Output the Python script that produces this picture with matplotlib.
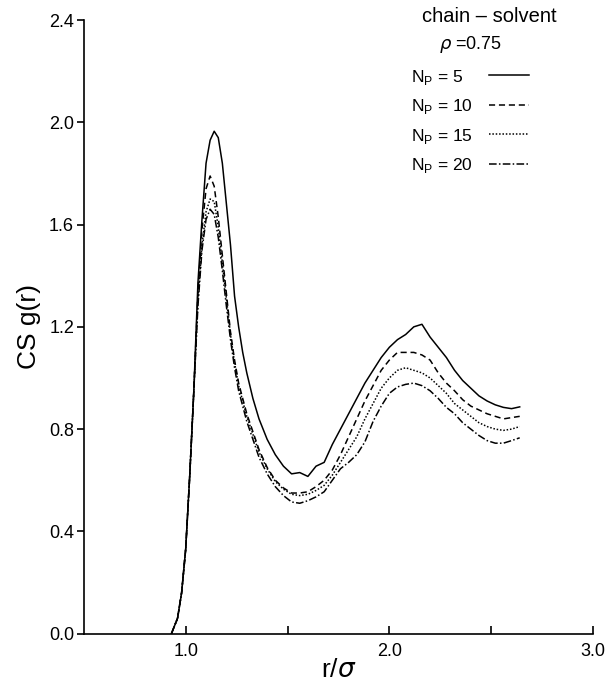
import matplotlib
matplotlib.use("Agg")
import matplotlib.pyplot as plt

plt.rcParams["font.family"] = ["Liberation Sans", "DejaVu Sans"]
plt.rcParams["mathtext.fontset"] = "custom"
plt.rcParams["mathtext.rm"] = "Liberation Sans"

# r/sigma grid shared by all four curves
r = [0.93, 0.96, 0.98, 1.00, 1.02, 1.04, 1.06, 1.08, 1.10, 1.12, 1.14, 1.16,
     1.18, 1.20, 1.22, 1.24, 1.26, 1.28, 1.30, 1.33, 1.36, 1.40, 1.44, 1.48,
     1.52, 1.56, 1.60, 1.64, 1.68, 1.72, 1.76, 1.80, 1.84, 1.88, 1.92, 1.96,
     2.00, 2.04, 2.08, 2.12, 2.16, 2.20, 2.24, 2.28, 2.32, 2.36, 2.40, 2.44,
     2.48, 2.52, 2.56, 2.60, 2.64]

g_np5 = [0.0, 0.06, 0.16, 0.33, 0.62, 0.95, 1.37, 1.62, 1.84, 1.93, 1.965, 1.94,
         1.84, 1.68, 1.52, 1.32, 1.20, 1.10, 1.02, 0.92, 0.84, 0.76, 0.70, 0.655,
         0.625, 0.63, 0.615, 0.655, 0.67, 0.74, 0.80, 0.86, 0.92, 0.98, 1.03, 1.08,
         1.12, 1.15, 1.17, 1.20, 1.21, 1.16, 1.12, 1.08, 1.03, 0.99, 0.96, 0.93,
         0.91, 0.895, 0.885, 0.88, 0.887]

g_np10 = [0.0, 0.06, 0.16, 0.33, 0.62, 0.95, 1.33, 1.58, 1.74, 1.79, 1.75, 1.63,
          1.48, 1.33, 1.18, 1.07, 0.98, 0.92, 0.86, 0.79, 0.72, 0.65, 0.60, 0.57,
          0.55, 0.55, 0.555, 0.575, 0.60, 0.64, 0.70, 0.77, 0.84, 0.91, 0.97, 1.03,
          1.07, 1.10, 1.10, 1.10, 1.09, 1.07, 1.02, 0.98, 0.95, 0.915, 0.89, 0.875,
          0.86, 0.85, 0.84, 0.845, 0.85]

g_np15 = [0.0, 0.06, 0.16, 0.33, 0.62, 0.95, 1.30, 1.52, 1.65, 1.70, 1.69, 1.59,
          1.45, 1.31, 1.17, 1.06, 0.97, 0.91, 0.85, 0.78, 0.71, 0.645, 0.595, 0.565,
          0.545, 0.54, 0.545, 0.56, 0.58, 0.62, 0.67, 0.72, 0.77, 0.84, 0.90, 0.96,
          1.00, 1.03, 1.04, 1.03, 1.02, 1.00, 0.97, 0.94, 0.90, 0.875, 0.85, 0.825,
          0.81, 0.80, 0.795, 0.80, 0.81]

g_np20 = [0.0, 0.06, 0.16, 0.33, 0.62, 0.95, 1.28, 1.50, 1.62, 1.66, 1.64, 1.55,
          1.42, 1.28, 1.15, 1.04, 0.95, 0.89, 0.83, 0.76, 0.69, 0.625, 0.575, 0.54,
          0.515, 0.51, 0.52, 0.535, 0.555, 0.60, 0.645, 0.67, 0.70, 0.75, 0.83, 0.89,
          0.94, 0.965, 0.975, 0.98, 0.97, 0.95, 0.92, 0.885, 0.86, 0.825, 0.80, 0.775,
          0.755, 0.745, 0.745, 0.755, 0.766]

labels = ["5", "10", "15", "20"]
styles = ["-", (0, (4, 2.5)), (0, (1, 1.2)), (0, (5, 1.5, 1, 1.5))]
x_ticks = [1.0, 1.5, 2.0, 2.5, 3.0]
x_ticklabels = ["1.0", "", "2.0", "", "3.0"]
y_ticks = [0.0, 0.4, 0.8, 1.2, 1.6, 2.0, 2.4]

fig = plt.figure(figsize=(6.12, 6.91), dpi=100)
ax = fig.add_axes([0.137, 0.083, 0.832, 0.888])

for g, ls in zip([g_np5, g_np10, g_np15, g_np20], styles):
    ax.plot(r, g, color="black", linestyle=ls, linewidth=1.1)

ax.set_xlim(0.5, 3.0)
ax.set_ylim(0.0, 2.4)
ax.spines["top"].set_visible(False)
ax.spines["right"].set_visible(False)
for s in ("left", "bottom"):
    ax.spines[s].set_linewidth(1.2)

ax.set_xticks(x_ticks)
ax.set_xticklabels(x_ticklabels)
ax.set_yticks(y_ticks)
ax.set_yticklabels([f"{v:.1f}" for v in y_ticks])
ax.tick_params(axis="x", direction="in", length=6, width=1.2, labelsize=13, pad=7)
ax.tick_params(axis="y", direction="out", length=5, width=1.2, labelsize=13, pad=2)

ax.set_xlabel(r"r/$\sigma$", fontsize=19, labelpad=-2)
ax.set_ylabel("CS g(r)", fontsize=19, labelpad=6)

# annotation and hand-made legend
ax.text(0.796, 1.005, "chain \u2013 solvent", transform=ax.transAxes,
        fontsize=14.5, ha="center", va="center")
ax.text(0.698, 0.96, r"$\rho$ =0.75", transform=ax.transAxes,
        fontsize=13, ha="left", va="center")

for i, (lab, ls) in enumerate(zip(labels, styles)):
    yy = 0.91 - 0.048 * i
    ax.text(0.643, yy - 0.003, r"N$_{\rm P}$ = " + lab, transform=ax.transAxes,
            fontsize=12.5, ha="left", va="center")
    ax.plot([0.796, 0.875], [yy, yy], transform=ax.transAxes, color="black",
            linestyle=ls, linewidth=1.1, clip_on=False)

fig.savefig("out.png", dpi=100)
